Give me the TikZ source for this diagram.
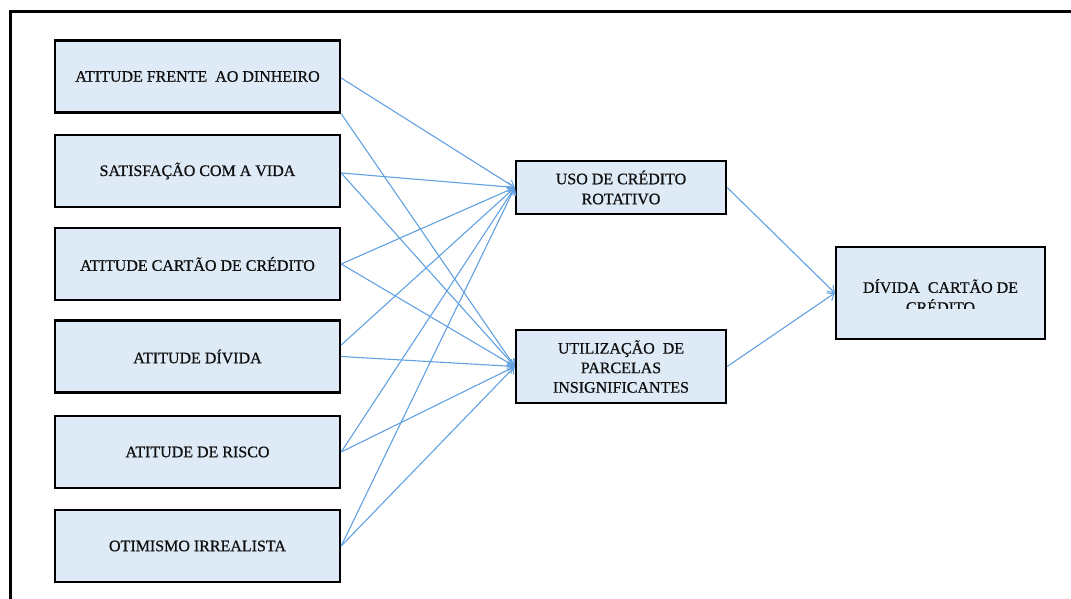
\documentclass[tikz,border=0pt]{standalone}
\usepackage{fontspec}
\setmainfont{Liberation Serif}
\newfontfamily\boxfont{Liberation Serif}[FakeBold=0.7]
\usetikzlibrary{arrows.meta,calc}

\definecolor{boxfill}{RGB}{222,235,247}
\definecolor{linkblue}{RGB}{98,162,226}
\definecolor{inkdark}{RGB}{15,15,15}

\tikzset{
  varbox/.style={draw=black, line width=2.4pt, fill=boxfill, text=inkdark,
    inner sep=0pt, align=center,
    font=\boxfont\fontsize{16}{20}\selectfont},
  leftbox/.style={varbox, minimum width=285pt, minimum height=72pt},
  midbox/.style={varbox, minimum width=210pt},
  link/.style={draw=linkblue, line width=1.1pt,
    -{Straight Barb[length=6pt,width=9pt,line width=1pt]}},
  frameline/.style={draw=black, line width=3pt}
}

\begin{document}
\begin{tikzpicture}[x=1pt,y=-1pt]
  \useasboundingbox[fill=white] (0,0) rectangle (1071,599);

  % outer frame (top and left edges)
  \coordinate (ftl) at (10,12);
  \coordinate (ftr) at (1071,12);
  \coordinate (fbl) at (10,599);
  \draw[frameline] (ftr) -- (ftl) -- (fbl);

  % antecedent variables
  \node[leftbox] (b1) at (197.5,76.5) {ATITUDE FRENTE\ \ AO DINHEIRO};
  \node[leftbox] (b2) at (197.5,171)  {SATISFAÇÃO COM A VIDA};
  \node[leftbox] (b3) at (197.5,264)  {ATITUDE CARTÃO DE CRÉDITO};
  \node[leftbox] (b4) at (197.5,356.5){ATITUDE DÍVIDA};
  \node[leftbox] (b5) at (197.5,452)  {ATITUDE DE RISCO};
  \node[leftbox] (b6) at (197.5,546)  {OTIMISMO IRREALISTA};

  % mediating variables
  \node[midbox, minimum height=53pt] (u) at (621,187.5)
    {USO DE CRÉDITO\\ROTATIVO};
  \node[midbox, minimum height=73pt, font=\boxfont\fontsize{16}{19.5}\selectfont] (p) at (621,366.5)
    {UTILIZAÇÃO\ \ DE\\PARCELAS\\INSIGNIFICANTES};

  % outcome variable; its second text line is cut off by the clip
  \node[varbox, minimum width=209pt, minimum height=92pt] (d) at (940.5,293) {};
  \begin{scope}
    \clip (d.north west) rectangle ($(d.east)+(100pt,-15pt)$);
    \node[font=\boxfont\fontsize{16}{20}\selectfont, text=inkdark, align=center, inner sep=0pt]
      (dt) at (940.5,296) {DÍVIDA\ \ CARTÃO DE\\CRÉDITO};
  \end{scope}

  % paths to the mediators
  \draw[link] ([yshift=-1.5pt]b1.east) -- (u.west);
  \draw[link] (b1.south east) -- (p.west);
  \draw[link] ([yshift=-2pt]b2.east) -- (u.west);
  \draw[link] ([yshift=-2pt]b2.east) -- (p.west);
  \draw[link] (b3.east) -- (u.west);
  \draw[link] (b3.east) -- (p.west);
  \draw[link] ([yshift=11.5pt]b4.east) -- (u.west);
  \draw[link] (b4.east) -- (p.west);
  \draw[link] (b5.east) -- (u.west);
  \draw[link] (b5.east) -- (p.west);
  \draw[link] (b6.east) -- (u.west);
  \draw[link] (b6.east) -- (p.west);

  % paths to the outcome
  \draw[link] (u.east) -- (d.west);
  \draw[link] (p.east) -- (d.west);
\end{tikzpicture}
\end{document}
